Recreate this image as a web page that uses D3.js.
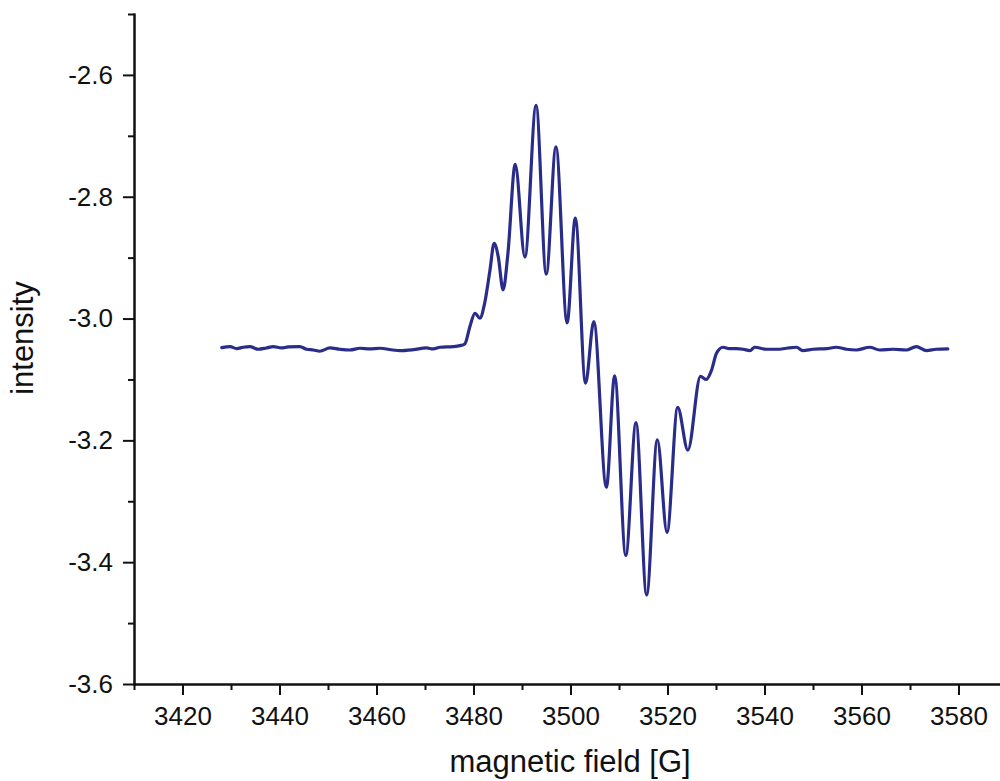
<!DOCTYPE html>
<html>
<head>
<meta charset="utf-8">
<script src="https://cdn.jsdelivr.net/npm/d3@7"></script>
<style>
    body { margin: 0; background: #fff; overflow: hidden; }
    svg { display: block; }
    .axis text { font-family: 'Liberation Sans', Arial, sans-serif; font-size: 26px; fill: #111; }
    .axis path, .axis line { stroke: #111; stroke-width: 2px; }
    .title { font-family: 'Liberation Sans', Arial, sans-serif; font-size: 31px; fill: #111; }
</style>
</head>
<body>
<div id="chart"></div>
<script>
// spectrum: field in gauss, intensity in arb. units
const fieldG = [
    3428.1, 3429.8, 3431.2, 3432.5, 3433.9, 3435.6, 3437.3, 3438.7, 3440.4, 3441.8,
    3444.2, 3445.6, 3447.0, 3448.3, 3450.4, 3452.4, 3454.5, 3456.6, 3458.6, 3460.7,
    3463.4, 3464.8, 3467.6, 3470.3, 3471.7, 3473.1, 3475.8, 3477.2, 3478.2, 3479.25,
    3480.3, 3481.3, 3482.3, 3483.4, 3484.25, 3485.1, 3486.1, 3487.1, 3488.6, 3490.6,
    3492.9, 3495.0, 3497.0, 3499.3, 3501.0, 3503.1, 3504.8, 3507.4, 3509.1, 3511.4,
    3513.5, 3515.7, 3517.9, 3519.9, 3522.1, 3524.2, 3526.8, 3528.0, 3529.1, 3530.1,
    3531.45, 3532.8, 3534.2, 3535.6, 3537.0, 3538.0, 3540.4, 3543.1, 3544.85, 3546.6,
    3547.9, 3550.0, 3552.8, 3554.8, 3556.9, 3558.9, 3561.7, 3563.75, 3566.5, 3569.25,
    3571.3, 3573.4, 3575.4, 3577.8
];
const intensity = [
    -3.0478, -3.0461, -3.0494, -3.0471, -3.0461, -3.0504, -3.0483, -3.0461, -3.0483, -3.0466,
    -3.0461, -3.0504, -3.0516, -3.0537, -3.0483, -3.0504, -3.0516, -3.0488, -3.0499, -3.0488,
    -3.0516, -3.0527, -3.0511, -3.0483, -3.0499, -3.0471, -3.0461, -3.0445, -3.0417, -3.0133,
    -2.9913, -2.9995, -2.9749, -2.9202, -2.8764, -2.8984, -2.953, -2.8928, -2.747, -2.899,
    -2.650, -2.927, -2.718, -3.007, -2.835, -3.106, -3.005, -3.277, -3.094, -3.389,
    -3.171, -3.454, -3.199, -3.351, -3.146, -3.216, -3.095, -3.100, -3.0844, -3.057,
    -3.0471, -3.0494, -3.0494, -3.0504, -3.0527, -3.0471, -3.0504, -3.0504, -3.0483, -3.0471,
    -3.0527, -3.0504, -3.0494, -3.0471, -3.0504, -3.0516, -3.0471, -3.0516, -3.0504, -3.0516,
    -3.0461, -3.0527, -3.0504, -3.0499
];

// axis ticks
const xMajorTicks = [3420, 3440, 3460, 3480, 3500, 3520, 3540, 3560, 3580];
const xMinorTicks = [3410, 3430, 3450, 3470, 3490, 3510, 3530, 3550, 3570, 3590];
const yMajorTicks = [-3.6, -3.4, -3.2, -3.0, -2.8, -2.6];
const yMinorTicks = [-3.5, -3.3, -3.1, -2.9, -2.7, -2.5];

const width = 1000;
const height = 781;
const margin = {top: 14, right: -7, bottom: 97, left: 134};

const svg = d3.select('#chart')
    .append('svg')
        .attr('width', width)
        .attr('height', height);

const xScale = d3.scaleLinear()
    .domain([3410, 3590])
    .range([margin.left, width - margin.right]);
const yScale = d3.scaleLinear()
    .domain([-3.6, -2.5])
    .range([height - margin.bottom, margin.top]);

// x axis (major + minor)
svg.append('g')
    .attr('class', 'axis')
    .attr('transform', `translate(0, ${height - margin.bottom})`)
    .call(d3.axisBottom(xScale).tickValues(xMajorTicks).tickSize(11).tickSizeOuter(0).tickPadding(12).tickFormat(d3.format('d')));
svg.append('g')
    .attr('class', 'axis')
    .attr('transform', `translate(0, ${height - margin.bottom})`)
    .call(d3.axisBottom(xScale).tickValues(xMinorTicks).tickSize(6).tickSizeOuter(0).tickFormat(''));

// y axis (major + minor)
svg.append('g')
    .attr('class', 'axis')
    .attr('transform', `translate(${margin.left}, 0)`)
    .call(d3.axisLeft(yScale).tickValues(yMajorTicks).tickSize(11).tickSizeOuter(0).tickPadding(10).tickFormat(d3.format('.1f')));
svg.append('g')
    .attr('class', 'axis')
    .attr('transform', `translate(${margin.left}, 0)`)
    .call(d3.axisLeft(yScale).tickValues(yMinorTicks).tickSize(6).tickSizeOuter(0).tickFormat(''));

// the corner where axes meet
svg.selectAll('.axis path').attr('stroke-linecap', 'square');
// d3 uses a unicode minus; the original shows a hyphen
svg.selectAll('.axis text').text(function() { return d3.select(this).text().replace('\u2212', '-'); });

// spectrum
const points = fieldG.map((g, i) => [g, intensity[i]]);
const line = d3.line()
    .x(d => xScale(d[0]))
    .y(d => yScale(d[1]))
    .curve(d3.curveMonotoneX);
svg.append('path')
    .datum(points)
    .attr('fill', 'none')
    .attr('stroke', '#292c88')
    .attr('stroke-width', 3.2)
    .attr('stroke-linejoin', 'round')
    .attr('stroke-linecap', 'round')
    .attr('d', line);

// axis titles
svg.append('text')
    .attr('class', 'title')
    .attr('text-anchor', 'middle')
    .attr('x', 570)
    .attr('y', 772)
    .text('magnetic field [G]');
svg.append('text')
    .attr('class', 'title')
    .attr('text-anchor', 'middle')
    .attr('transform', 'translate(33, 338) rotate(-90)')
    .text('intensity');
</script>
</body>
</html>
